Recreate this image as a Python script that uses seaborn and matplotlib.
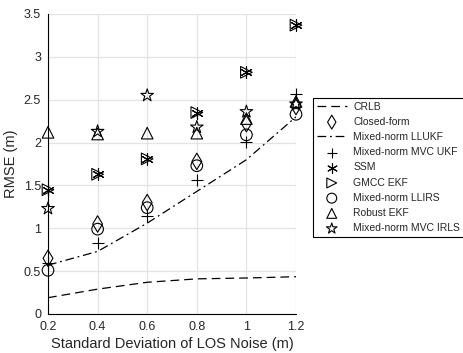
import matplotlib
matplotlib.use("Agg")
import matplotlib.pyplot as plt
import seaborn as sns

# noise levels (x axis)
noise_std = [0.2, 0.4, 0.6, 0.8, 1.0, 1.2]

# RMSE per method
crlb = [0.19, 0.29, 0.37, 0.41, 0.42, 0.435]
closed_form = [0.65, 1.05, 1.30, 1.78, 2.22, 2.42]
llukf = [0.57, 0.73, 1.06, 1.43, 1.80, 2.30]
mvc_ukf = [0.60, 0.83, 1.14, 1.56, 2.01, 2.57]
ssm = [1.45, 1.63, 1.81, 2.35, 2.82, 3.37]
gmcc_ekf = [1.45, 1.63, 1.81, 2.35, 2.82, 3.37]
llirs = [0.51, 0.99, 1.24, 1.73, 2.09, 2.33]
robust_ekf = [2.12, 2.10, 2.11, 2.11, 2.28, 2.48]
mvc_irls = [1.23, 2.13, 2.55, 2.18, 2.36, 2.45]

sns.set_style("whitegrid")
plt.rcParams["font.family"] = ["Liberation Sans", "DejaVu Sans"]

fig = plt.figure(figsize=(4.64, 3.53), dpi=100)
ax = fig.add_axes([48 / 464, 1 - 314 / 353, 248 / 464, 300 / 353])

asterisk = (6, 2, 0)
kw_open = dict(s=70, facecolor="none", edgecolor="black", linewidth=0.8, clip_on=False, zorder=3)
kw_thin = dict(s=70, color="black", linewidth=0.8, clip_on=False, zorder=3)

sns.lineplot(x=noise_std, y=crlb, ax=ax, color="black", linewidth=0.9,
             linestyle=(0, (7, 4)), label="CRLB")
sns.scatterplot(x=noise_std, y=closed_form, ax=ax, marker="d", label="Closed-form", **kw_open)
sns.lineplot(x=noise_std, y=llukf, ax=ax, color="black", linewidth=0.9,
             linestyle=(0, (7, 3, 1.5, 3)), label="Mixed-norm LLUKF")
sns.scatterplot(x=noise_std, y=mvc_ukf, ax=ax, marker="+", label="Mixed-norm MVC UKF", **kw_thin)
sns.scatterplot(x=noise_std, y=ssm, ax=ax, marker=asterisk, label="SSM", **kw_thin)
sns.scatterplot(x=noise_std, y=gmcc_ekf, ax=ax, marker=">", label="GMCC EKF", **kw_open)
sns.scatterplot(x=noise_std, y=llirs, ax=ax, marker="o", label="Mixed-norm LLIRS", **kw_open)
sns.scatterplot(x=noise_std, y=robust_ekf, ax=ax, marker="^", label="Robust EKF", **kw_open)
sns.scatterplot(x=noise_std, y=mvc_irls, ax=ax, marker="*", label="Mixed-norm MVC IRLS",
                s=90, facecolor="none", edgecolor="black", linewidth=0.8, clip_on=False, zorder=3)

ax.set_xlim(0.2, 1.2)
ax.set_ylim(0, 3.5)
ax.set_xticks(noise_std)
ax.set_xticklabels(["0.2", "0.4", "0.6", "0.8", "1", "1.2"])
ax.set_yticks([0, 0.5, 1, 1.5, 2, 2.5, 3, 3.5])
ax.set_yticklabels(["0", "0.5", "1", "1.5", "2", "2.5", "3", "3.5"])
ax.set_xlabel("Standard Deviation of LOS Noise (m)", fontsize=10.5, color="#262626", labelpad=3)
ax.set_ylabel("RMSE (m)", fontsize=10.5, color="#262626", labelpad=4)
ax.tick_params(axis="both", labelsize=9, colors="black", direction="in",
               length=3, width=0.8, pad=5)
for lbl in ax.get_xticklabels() + ax.get_yticklabels():
    lbl.set_color("#262626")

ax.grid(True, color="#e3e3e3", linewidth=0.9)
for side in ["top", "right"]:
    ax.spines[side].set_visible(False)
for side in ["left", "bottom"]:
    ax.spines[side].set_color("black")
    ax.spines[side].set_linewidth(0.8)

leg = ax.legend(loc="upper left", bbox_to_anchor=(313 / 464, 1 - 98 / 353),
                bbox_transform=fig.transFigure, fontsize=7.5, frameon=True,
                fancybox=False, edgecolor="black", framealpha=1, markerscale=0.85,
                handlelength=2.9, handletextpad=0.6, labelspacing=0.5,
                borderpad=0.35, borderaxespad=0)
leg.get_frame().set_linewidth(0.8)

fig.savefig("out.png", dpi=100)
